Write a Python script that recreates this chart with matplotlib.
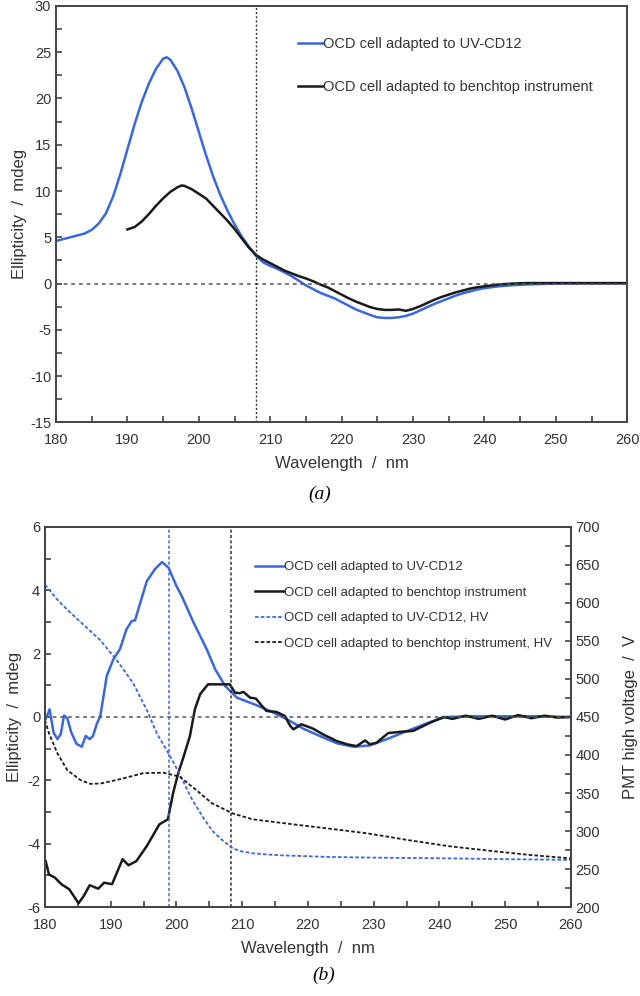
import matplotlib.pyplot as plt
from matplotlib.ticker import MultipleLocator

plt.rcParams['font.family'] = ['Liberation Sans', 'DejaVu Sans']
plt.rcParams['axes.unicode_minus'] = False

BLUE = '#3a68dc'
BLACK = '#1a1a1a'
GREY = '#333333'

# panel (a)
a_blue_x = [180, 181, 182, 183, 184, 185, 186, 187, 188, 189, 190, 191, 192, 193, 194, 195,
            195.5, 196, 197, 198, 199, 200, 201, 202, 203, 204, 205, 206, 207, 208, 209, 210,
            211, 212, 213, 214, 215, 216, 217, 218, 219, 220, 221, 222, 223, 224, 225, 226,
            227, 228, 229, 230, 231, 232, 233, 234, 235, 236, 237, 238, 239, 240, 242, 244,
            246, 248, 250, 255, 260]
a_blue_y = [4.6, 4.8, 5.0, 5.2, 5.4, 5.8, 6.5, 7.6, 9.4, 11.8, 14.5, 17.2, 19.6, 21.6, 23.2, 24.3,
            24.45, 24.2, 23.0, 21.2, 18.9, 16.4, 13.9, 11.6, 9.6, 7.9, 6.4, 5.1, 4.0, 3.0, 2.3, 1.9,
            1.6, 1.2, 0.8, 0.3, -0.2, -0.6, -1.0, -1.3, -1.6, -2.0, -2.4, -2.8, -3.1, -3.4, -3.65, -3.72,
            -3.72, -3.65, -3.5, -3.25, -2.9, -2.55, -2.2, -1.9, -1.6, -1.3, -1.05, -0.85, -0.65, -0.5, -0.3, -0.18,
            -0.1, -0.05, 0.0, 0.02, 0.02]
a_black_x = [190, 191, 192, 193, 194, 195, 196, 197, 197.6, 198, 199, 200, 201, 202, 203, 204,
             205, 206, 207, 208, 209, 210, 211, 212, 213, 214, 215, 216, 217, 218, 219, 220,
             221, 222, 223, 224, 225, 226, 227, 228, 229, 230, 231, 232, 233, 234, 235, 236,
             237, 238, 239, 240, 242, 244, 246, 250, 255, 260]
a_black_y = [5.85, 6.1, 6.7, 7.5, 8.4, 9.2, 9.9, 10.4, 10.6, 10.55, 10.2, 9.7, 9.2, 8.4, 7.6, 6.8,
             5.9, 4.9, 3.9, 3.1, 2.6, 2.2, 1.8, 1.4, 1.1, 0.8, 0.55, 0.25, -0.1, -0.4, -0.8, -1.2,
             -1.6, -1.95, -2.25, -2.55, -2.75, -2.85, -2.85, -2.8, -2.95, -2.75, -2.45, -2.1, -1.75, -1.45, -1.2, -0.95,
             -0.75, -0.55, -0.4, -0.3, -0.1, 0.0, 0.05, 0.05, 0.05, 0.05]

# panel (b), ellipticity
b_blue_x = [180, 180.3, 180.7, 181.3, 181.9, 182.4, 182.9, 183.4, 184.0, 184.8, 185.6, 186.2,
            186.8, 187.3, 187.9, 188.4, 188.9, 189.4, 190.4, 191.4, 192.4, 193.2, 193.7, 194.5,
            195.5, 196.7, 197.8, 198.8, 200.0, 200.8, 202.6, 204.6, 205.9, 207.4, 209.2, 212.2,
            214.2, 216.8, 219.3, 221.8, 224.4, 226.9, 229.4, 232.0, 234.5, 238.6, 241, 245, 250,
            255, 260]
b_blue_y = [-0.1, 0.03, 0.24, -0.49, -0.7, -0.54, 0.05, -0.05, -0.49, -0.85, -0.94, -0.6,
            -0.7, -0.6, -0.21, 0.02, 0.65, 1.3, 1.82, 2.14, 2.77, 3.03, 3.05, 3.61,
            4.29, 4.66, 4.89, 4.71, 4.13, 3.82, 2.98, 2.14, 1.5, 0.98, 0.61, 0.37,
            0.19, -0.07, -0.37, -0.6, -0.83, -0.94, -0.9, -0.7, -0.49, -0.16, 0.0, 0.02, 0.02,
            0.02, 0.0]
b_black_x = [180.1, 180.6, 181.5, 182.5, 183.7, 185.1, 185.9, 186.8, 188.1, 189, 190.2, 191.8,
             192.7, 193.9, 195.5, 197.4, 198.7, 199.5, 200.3, 201.0, 202.05, 202.8, 203.6, 204.8,
             206.5, 208.1, 208.9, 209.6, 210.2, 211.2, 212.1, 213.0, 213.7, 215.2, 216.5, 217.3,
             217.8, 219.0, 220.8, 222.3, 224.4, 225.9, 227.4, 228.7, 229.4, 230.4, 232.2, 234.0,
             236.0, 238.6, 240.6, 242, 244, 246, 248, 250, 252, 254, 256, 258, 260]
b_black_y = [-4.55, -4.97, -5.07, -5.28, -5.44, -5.88, -5.65, -5.31, -5.42, -5.23, -5.28, -4.49,
             -4.68, -4.55, -4.07, -3.39, -3.23, -2.39, -1.75, -1.31, -0.6, 0.24, 0.72, 1.03,
             1.03, 1.03, 0.77, 0.75, 0.79, 0.61, 0.58, 0.35, 0.19, 0.16, 0.03, -0.28,
             -0.39, -0.23, -0.37, -0.55, -0.76, -0.86, -0.92, -0.74, -0.86, -0.82, -0.51, -0.47,
             -0.44, -0.18, 0.0, -0.06, 0.04, -0.06, 0.04, -0.08, 0.06, -0.04, 0.04, -0.02, 0.0]

# panel (b), PMT high voltage
hv_blue_x = [180, 181.9, 183.4, 185.9, 188.4, 190.9, 193.4, 195.5, 197, 198.8, 200.3, 202.4,
             204.3, 205.5, 206.7, 207.7, 208.6, 210, 211.6, 214, 216, 222.8, 230, 241.5, 250, 260]
hv_blue_y = [624, 604, 591, 571, 551, 525, 494.6, 459, 428.6, 402, 378, 341,
             314.5, 300, 290, 283, 277, 273, 270.7, 269, 268, 266, 265, 264, 263, 262]
hv_black_x = [180, 180.6, 181.9, 183.4, 185.4, 186.9, 188.5, 191.8, 194.9, 198, 200.5, 203,
              205.4, 208.6, 211.6, 216.6, 222.8, 229, 235.3, 241.5, 247.7, 253.9, 260]
hv_black_y = [446, 428.6, 402, 380, 367, 362, 362.5, 369, 376, 376.7, 371.4, 354,
              336.5, 323, 315.4, 310, 303.6, 297, 288, 280, 274, 268.4, 264]

labels = ['OCD cell adapted to UV-CD12', 'OCD cell adapted to benchtop instrument',
          'OCD cell adapted to UV-CD12, HV', 'OCD cell adapted to benchtop instrument, HV']


def style(ax):
    for s in ax.spines.values():
        s.set_color('#444444')
        s.set_linewidth(1.4)
    ax.tick_params(which='both', direction='in', color='#444444', labelcolor=GREY,
                   labelsize=10.5, width=1.2, length=4)


fig = plt.figure(figsize=(6.4, 9.96), dpi=100)

ax1 = fig.add_axes([0.0875, 0.576, 0.8925, 0.418])
ax1.plot(a_blue_x, a_blue_y, color=BLUE, lw=1.8, label=labels[0])
ax1.plot(a_black_x, a_black_y, color=BLACK, lw=1.8, label=labels[1])
ax1.axhline(0, color='#555555', lw=1.1, ls=(0, (2.5, 2.5)))
ax1.axvline(208, color='#333333', lw=1.0, ls=(0, (1.5, 1.5)))
ax1.set_xlim(180, 260)
ax1.set_ylim(-15, 30)
ax1.xaxis.set_major_locator(MultipleLocator(10))
ax1.xaxis.set_minor_locator(MultipleLocator(5))
ax1.yaxis.set_major_locator(MultipleLocator(5))
ax1.yaxis.set_minor_locator(MultipleLocator(2.5))
style(ax1)
ax1.tick_params(axis='x', pad=8)
ax1.set_xlabel('Wavelength  /  nm', fontsize=12, color=GREY, labelpad=6)
ax1.set_ylabel('Ellipticity  /  mdeg', fontsize=12, color=GREY, labelpad=2)
ax1.legend(loc='upper left', bbox_to_anchor=(0.424, 0.925), frameon=False, fontsize=10.5,
           handlelength=1.7, handletextpad=0.0, labelspacing=2.0, labelcolor=GREY,
           borderpad=0, borderaxespad=0)
fig.text(0.5, 0.504, '(a)', ha='center', va='center', fontsize=14, family='Liberation Serif',
         style='italic')

ax2 = fig.add_axes([0.0703, 0.0893, 0.8217, 0.3817])
l1, = ax2.plot(b_blue_x, b_blue_y, color=BLUE, lw=1.8)
l2, = ax2.plot(b_black_x, b_black_y, color=BLACK, lw=1.8)
ax2.axhline(0, color='#555555', lw=1.1, ls=(0, (2.5, 2.5)))
ax2.axvline(198.8, color=BLUE, lw=1.1, ls=(0, (2, 1.5)))
ax2.axvline(208.3, color='#333333', lw=1.1, ls=(0, (2, 1.5)))
ax2.set_xlim(180, 260)
ax2.set_ylim(-6, 6)
ax2.xaxis.set_major_locator(MultipleLocator(10))
ax2.xaxis.set_minor_locator(MultipleLocator(5))
ax2.yaxis.set_major_locator(MultipleLocator(2))
ax2.yaxis.set_minor_locator(MultipleLocator(1))
style(ax2)
ax2.tick_params(axis='x', pad=8)
ax2.set_xlabel('Wavelength  /  nm', fontsize=12, color=GREY, labelpad=6)
ax2.set_ylabel('Ellipticity  /  mdeg', fontsize=12, color=GREY, labelpad=4)

ax3 = ax2.twinx()
l3, = ax3.plot(hv_blue_x, hv_blue_y, color=BLUE, lw=1.3, ls=(0, (2, 1.2)))
l4, = ax3.plot(hv_black_x, hv_black_y, color=BLACK, lw=1.3, ls=(0, (2, 1.2)))
ax3.set_ylim(200, 700)
ax3.yaxis.set_major_locator(MultipleLocator(50))
ax3.yaxis.set_minor_locator(MultipleLocator(25))
style(ax3)
ax3.set_ylabel('PMT high voltage  /  V', fontsize=12, color=GREY, labelpad=16)

ax3.legend([l1, l2, l3, l4], labels, loc='upper left', bbox_to_anchor=(0.40, 0.91),
           frameon=False, fontsize=9.5, handlelength=2.2, handletextpad=0.0,
           labelspacing=1.0, labelcolor=GREY, borderpad=0, borderaxespad=0)
fig.text(0.505, 0.021, '(b)', ha='center', va='center', fontsize=14, family='Liberation Serif',
         style='italic')

fig.savefig('out.png', dpi=100)
